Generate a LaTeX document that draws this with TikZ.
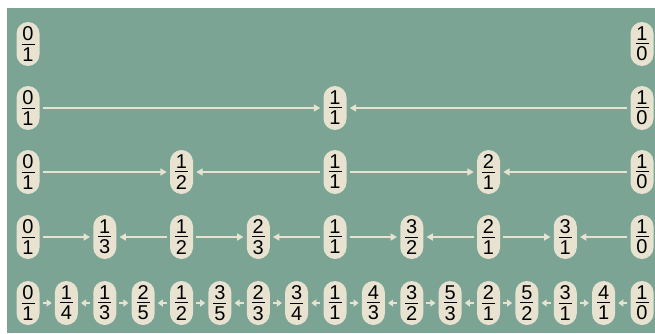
\documentclass[tikz,border=0pt]{standalone}
\usepackage{fontspec}
\setmainfont{Liberation Sans}
\usetikzlibrary{arrows.meta}
\definecolor{bg}{RGB}{123,164,149}
\definecolor{cream}{RGB}{232,226,208}
\newcommand\myfr[2]{\vbox{\hbox to 13pt{\hss#1\hss}\kern2.6pt\hrule height 1pt\kern2.8pt\hbox to 13pt{\hss#2\hss}}}
\begin{document}
\begin{tikzpicture}[x=1pt,y=1pt,
  fracnode/.style={fill=cream, rectangle, rounded corners=11.5pt, minimum width=23pt, minimum height=44pt, inner sep=0pt, font=\fontsize{20}{22}\selectfont},
  link/.style={draw=cream, line width=2pt, shorten >=3pt, shorten <=3pt}]
\useasboundingbox (0,0) rectangle (655,333);
\fill[bg] (7,0) rectangle (655,325);
\foreach \r/\y/\s/\lst in {
  1/289/16/{0/1,1/0},
  2/225/8/{0/1,1/1,1/0},
  3/161/4/{0/1,1/2,1/1,2/1,1/0},
  4/96/2/{0/1,1/3,1/2,2/3,1/1,3/2,2/1,3/1,1/0},
  5/30/1/{0/1,1/4,1/3,2/5,1/2,3/5,2/3,3/4,1/1,4/3,3/2,5/3,2/1,5/2,3/1,4/1,1/0}}{
  \foreach \a/\b [count=\c from 0] in \lst {
    \node[fracnode] (n\r-\c) at ({28+38.375*\c*\s},\y) {\myfr{\a}{\b}};
  }
}
\foreach \r/\m/\al in {2/2/6.5,3/4/6.5,4/8/6.5,5/16/5}{
  \foreach \k in {1,...,\m}{
    \pgfmathtruncatemacro\p{\k-1}
    \ifodd\k
      \draw[link,-{Triangle[length=\al pt,width=7pt]}] (n\r-\p) -- (n\r-\k);
    \else
      \draw[link,-{Triangle[length=\al pt,width=7pt]}] (n\r-\k) -- (n\r-\p);
    \fi
  }
}
\end{tikzpicture}
\end{document}
